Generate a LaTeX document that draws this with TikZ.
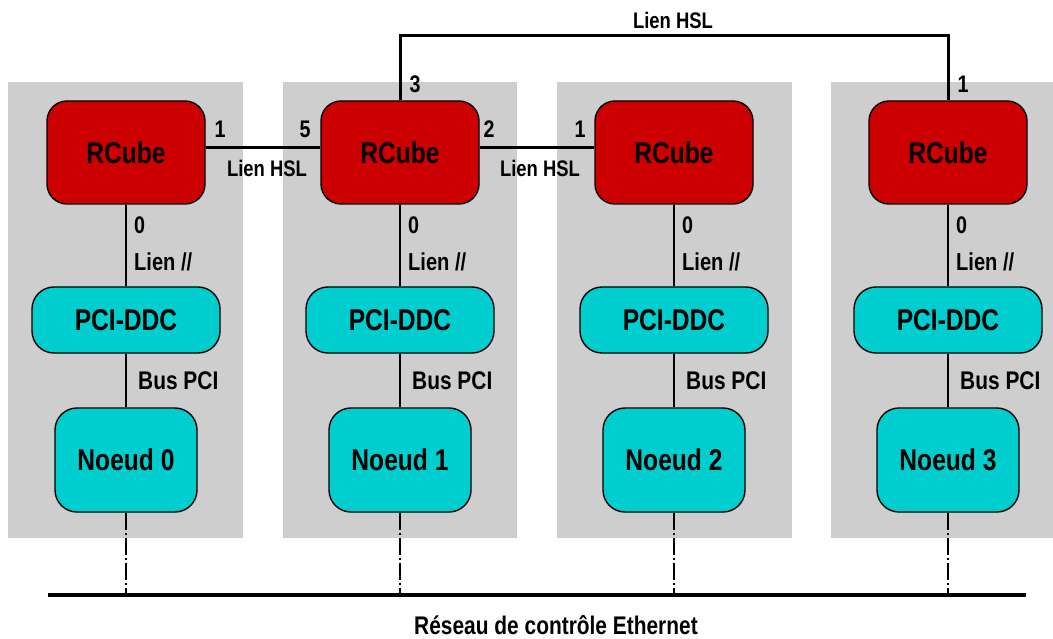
\documentclass[tikz,border=0pt]{standalone}
\usepackage{fontspec}
\setmainfont{Liberation Sans}[FakeStretch=0.82]
\definecolor{rcred}{RGB}{204,0,0}
\definecolor{pcicyan}{RGB}{0,206,206}
\definecolor{panelgray}{RGB}{206,206,206}
\begin{document}
\begin{tikzpicture}[x=1pt,y=-1pt,
  panel/.style={fill=panelgray,draw=none},
  rcube/.style={draw=black,line width=1.4pt,fill=rcred,rounded corners=20pt,minimum width=158pt,minimum height=103pt,inner sep=0pt,font=\bfseries\fontsize{30}{30}\selectfont},
  pcibox/.style={draw=black,line width=1.4pt,fill=pcicyan,rounded corners=22pt,minimum width=188pt,minimum height=66pt,inner sep=0pt,font=\bfseries\fontsize{30}{30}\selectfont},
  noeud/.style={draw=black,line width=1.4pt,fill=pcicyan,rounded corners=22pt,minimum width=142pt,minimum height=104pt,inner sep=0pt,font=\bfseries\fontsize{30}{30}\selectfont},
  lbl/.style={inner sep=0pt,font=\bfseries\fontsize{22.5}{22.5}\selectfont},
  numlbl/.style={inner sep=0pt,font=\bfseries\fontsize{24}{24}\selectfont},
  midlbl/.style={inner sep=0pt,font=\bfseries\fontsize{24.5}{24.5}\selectfont},
  buslbl/.style={inner sep=0pt,font=\bfseries\fontsize{25.5}{25.5}\selectfont},
  ethlbl/.style={inner sep=0pt,font=\bfseries\fontsize{25.5}{25.5}\selectfont},
  thinlink/.style={line width=1.4pt},
  hsl/.style={line width=3pt},
  dashdot/.style={line width=2pt,dash pattern=on 17pt off 3pt on 2pt off 3pt},
  ether/.style={line width=3.5pt}
]
\useasboundingbox (0,0) rectangle (1053,639);
% panels
\fill[panel] (8,82) rectangle (243,538);
\fill[panel] (283,82) rectangle (517,538);
\fill[panel] (557,82) rectangle (792,538);
\fill[panel] (831,82) rectangle (1053,538);
% nodes
\foreach \i/\cx in {0/126,1/400,2/674,3/948}{
  \node[rcube] (r\i) at (\cx,152.5) {RCube};
  \node[pcibox] (p\i) at (\cx,320) {PCI-DDC};
  \node[noeud] (n\i) at (\cx,460) {Noeud \i};
  \coordinate (e\i) at (\cx,595);
  \draw[thinlink] (r\i) -- (p\i);
  \draw[thinlink] (p\i) -- (n\i);
  \draw[dashdot] (n\i.south) -- (e\i);
  \node[numlbl,anchor=west] (z\i) at (\cx+8,225) {0};
  \node[midlbl,anchor=west] (ll\i) at (\cx+8,262) {Lien //};
  \node[buslbl,anchor=west] (bp\i) at (\cx+12,381) {Bus PCI};
}
% HSL links
\draw[hsl] ([yshift=4.5pt]r0.east) -- ([yshift=4.5pt]r1.west);
\draw[hsl] ([yshift=4.5pt]r1.east) -- ([yshift=4.5pt]r2.west);
\coordinate (t1) at (400,36);
\coordinate (t3) at (948,36);
\draw[hsl] (r1.north) -- (t1) -- (t3) -- (r3.north);
% port labels
\node[numlbl] (a1) at (220,129) {1};
\node[numlbl] (a5) at (305,129) {5};
\node[numlbl] (a2) at (489,129) {2};
\node[numlbl] (a1b) at (580,129) {1};
\node[numlbl] (a3) at (415,84) {3};
\node[numlbl] (a1c) at (963,84) {1};
\node[lbl] (h0) at (267,168) {Lien HSL};
\node[lbl] (h1) at (540,168) {Lien HSL};
\node[lbl] (htop) at (673,20) {Lien HSL};
% ethernet
\coordinate (es) at (48,595);
\coordinate (ee) at (1026,595);
\draw[ether] (es) -- (ee);
\node[ethlbl] (eth) at (556,625) {Réseau de contrôle Ethernet};
\end{tikzpicture}
\end{document}
